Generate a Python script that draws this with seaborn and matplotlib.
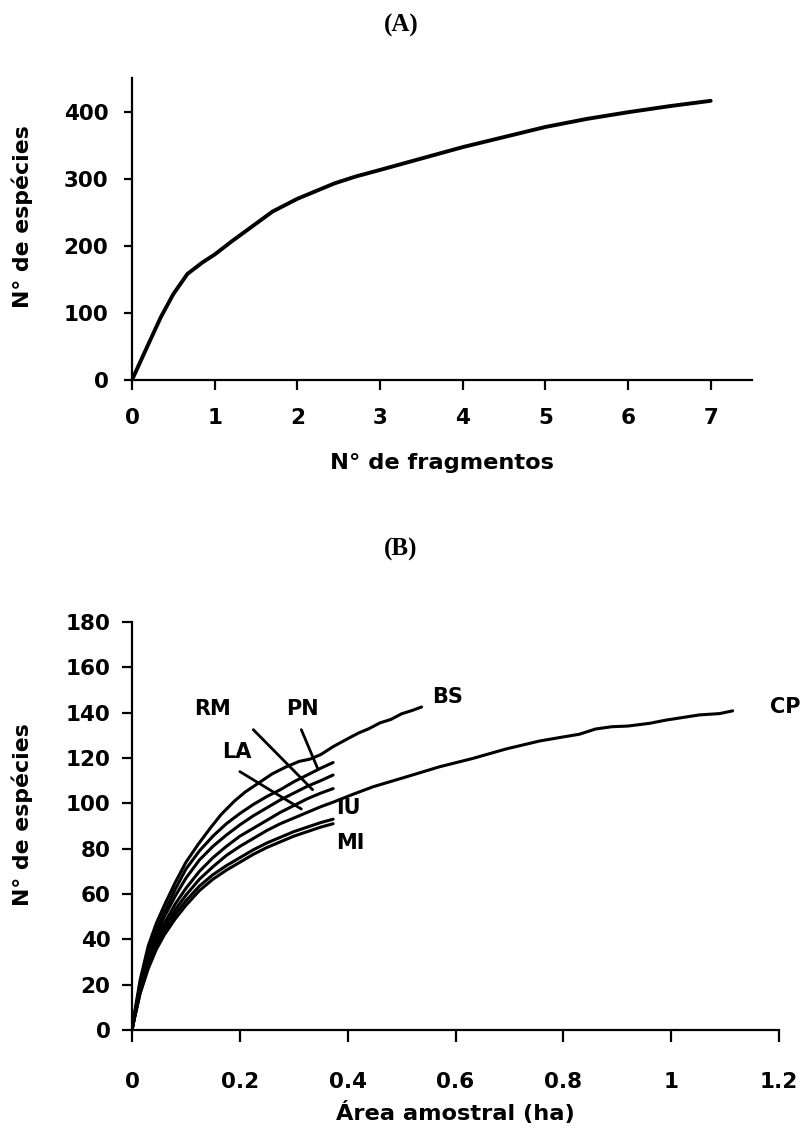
import numpy as np
import pandas as pd
import matplotlib
matplotlib.use("Agg")
import matplotlib.pyplot as plt
import seaborn as sns

# ---------------- data ----------------
# Panel A: species accumulation vs number of fragments
frag_x = [0, 0.1, 0.2, 0.35, 0.5, 0.67, 0.85, 1.0, 1.2, 1.4, 1.7, 2.0, 2.45, 2.7, 3.0, 3.5,
          4.0, 4.5, 5.0, 5.5, 6.0, 6.5, 7.0]
frag_y = [0, 27, 54, 94, 128, 158, 175, 187, 206, 224, 251, 270, 293, 303, 313, 330,
          347, 362, 377, 389, 399, 408, 416]

# Panel B: species-area curves per site
grid_x = [0, 0.005, 0.015, 0.03, 0.045, 0.06, 0.08, 0.1, 0.125, 0.15, 0.175, 0.2, 0.225,
          0.25, 0.275, 0.3, 0.325, 0.35, 0.373]
bs_x = [0, 0.005, 0.015, 0.03, 0.045, 0.06, 0.08, 0.1, 0.123, 0.145, 0.165, 0.19, 0.21,
        0.235, 0.26, 0.285, 0.31, 0.33, 0.35, 0.373, 0.4, 0.42, 0.44, 0.46, 0.48, 0.5,
        0.52, 0.537]
bs_y = [0, 8, 22, 37, 47, 55, 65, 74, 82, 89, 95, 101, 105, 109, 113, 116, 118.5, 119.5,
        121.5, 125, 128.5, 131, 133, 135.5, 137, 139.5, 141, 142.5]
pn_y = [0, 7, 20, 34, 44, 52, 62, 71, 79, 85.5, 91, 95.5, 99.5, 103, 106, 109.5, 112.5,
        115.5, 118]
rm_y = [0, 7, 19, 32, 42, 50, 59, 67, 75, 81, 86, 90.5, 94.5, 98, 101.5, 104.5, 107.5,
        110, 112.5]
la_y = [0, 6.5, 18, 30, 40, 47, 55.5, 62.5, 70, 76, 81, 85.5, 89, 92.5, 96, 99, 102,
        104.5, 106.5]
cp_x = grid_x + [0.41, 0.447, 0.509, 0.57, 0.632, 0.694, 0.756, 0.8, 0.83, 0.86, 0.89,
                 0.92, 0.96, 0.99, 1.052, 1.09, 1.114]
cp_y = [0, 6, 17, 29, 38, 45, 53, 59.5, 66.5, 72, 77, 81, 84.5, 88, 91, 93.5, 96, 98.5,
        100.5, 104, 107.3, 111.7, 116.1, 119.8, 124, 127.5, 129.3, 130.5, 132.8, 133.8,
        134.1, 135.3, 136.7, 139, 139.6, 140.8]
iu_y = [0, 6, 16.5, 28, 36.5, 43.5, 51, 57, 63.5, 68.5, 72.5, 76, 79.5, 82.5, 85, 87.5,
        89.5, 91.5, 93]
mi_y = [0, 5.5, 16, 27, 35.5, 42, 49, 55, 61.5, 66.5, 70.5, 74, 77.5, 80.5, 83, 85.5,
        87.5, 89.5, 91]

site_names = ["BS", "PN", "RM", "LA", "CP", "IU", "MI"]
site_xs = [bs_x, grid_x, grid_x, grid_x, cp_x, grid_x, grid_x]
site_ys = [bs_y, pn_y, rm_y, la_y, cp_y, iu_y, mi_y]

# label positions (data coords, alignment) and leader lines
label_pos = {"BS": (0.557, 147, "left"), "CP": (1.183, 142.5, "left"),
             "RM": (0.149, 141.6, "center"), "PN": (0.317, 141.6, "center"),
             "LA": (0.195, 122.6, "center"), "IU": (0.378, 98, "left"),
             "MI": (0.378, 82.5, "left")}
leaders = {"RM": ((0.225, 132.5), (0.335, 106)),
           "PN": ((0.314, 132.5), (0.345, 115)),
           "LA": ((0.2, 114), (0.314, 97.5))}

xticks_a = [0, 1, 2, 3, 4, 5, 6, 7]
yticks_a = [0, 100, 200, 300, 400]
xticks_b = [0, 0.2, 0.4, 0.6, 0.8, 1, 1.2]
xticklabels_b = ["0", "0.2", "0.4", "0.6", "0.8", "1", "1.2"]
yticks_b = list(range(0, 181, 20))

# ---------------- style ----------------
sns.set_theme(style="ticks")
plt.rcParams["font.family"] = ["DejaVu Sans"]
plt.rcParams["font.weight"] = "bold"
plt.rcParams["axes.labelweight"] = "bold"
for key in ["text.color", "axes.labelcolor", "xtick.color", "ytick.color", "axes.edgecolor"]:
    plt.rcParams[key] = "black"

W, H = 802, 1144
fig = plt.figure(figsize=(W / 100, H / 100), dpi=100)
fig.patch.set_facecolor("white")

axA = fig.add_axes([132 / W, 1 - 380 / H, (752 - 132) / W, (380 - 78) / H])
axB = fig.add_axes([132 / W, 1 - 1030 / H, (779 - 132) / W, (1030 - 622) / H])

# Panel A
dfA = pd.DataFrame({"x": frag_x, "y": frag_y})
sns.lineplot(data=dfA, x="x", y="y", ax=axA, color="black", linewidth=2.8,
             sort=False, estimator=None)
axA.set_xlim(0, 7.5)
axA.set_ylim(0, 450)
axA.set_xticks(xticks_a)
axA.set_yticks(yticks_a)
axA.set_xlabel("N° de fragmentos", fontsize=16.2, fontweight="bold")
axA.set_ylabel("N° de espécies", fontsize=15.8, fontweight="bold")
axA.xaxis.set_label_coords(0.5, -(453 - 380) / 302)
axA.yaxis.set_label_coords(-(132 - 33) / 620, 0.5 + 12 / 302)

# Panel B
rows = []
for name, xs, ys in zip(site_names, site_xs, site_ys):
    for xv, yv in zip(xs, ys):
        rows.append((name, xv, yv))
dfB = pd.DataFrame(rows, columns=["site", "area", "species"])
sns.lineplot(data=dfB, x="area", y="species", units="site", ax=axB, color="black",
             linewidth=2.2, sort=False, estimator=None)
axB.set_xlim(0, 1.2)
axB.set_ylim(0, 180)
axB.set_xticks(xticks_b)
axB.set_xticklabels(xticklabels_b)
axB.set_yticks(yticks_b)
axB.set_xlabel("Área amostral (ha)", fontsize=16.2, fontweight="bold")
axB.set_ylabel("N° de espécies", fontsize=15.8, fontweight="bold")
axB.xaxis.set_label_coords(0.5, -(1101 - 1030) / 408)
axB.yaxis.set_label_coords(-(132 - 33) / 647, 0.5 + 11 / 408)

for name, (lx, ly, ha) in label_pos.items():
    axB.text(lx, ly, name, fontsize=15, fontweight="bold", ha=ha, va="center")
for name, (p0, p1) in leaders.items():
    axB.annotate("", xy=p1, xytext=p0,
                 arrowprops=dict(arrowstyle="-", color="black", lw=2.0,
                                 shrinkA=0, shrinkB=0))

for ax in (axA, axB):
    sns.despine(ax=ax)
    ax.spines["left"].set_linewidth(1.6)
    ax.spines["bottom"].set_linewidth(1.6)
    ax.tick_params(axis="both", direction="out", width=1.6, labelsize=15.5)
    for lab in ax.get_xticklabels() + ax.get_yticklabels():
        lab.set_fontweight("bold")
    ax.set_facecolor("white")

axA.tick_params(axis="x", length=7, pad=13)
axA.tick_params(axis="y", length=6, pad=11)
axB.tick_params(axis="x", length=8.5, pad=22)
axB.tick_params(axis="y", length=7, pad=8.5)

fig.text(401 / W, 1 - 25 / H, "(A)", fontsize=18, fontweight="bold",
         family=["Liberation Serif", "DejaVu Serif"], ha="center", va="center")
fig.text(401 / W, 1 - 549 / H, "(B)", fontsize=18, fontweight="bold",
         family=["Liberation Serif", "DejaVu Serif"], ha="center", va="center")

fig.savefig("out.png", dpi=100, facecolor="white")
